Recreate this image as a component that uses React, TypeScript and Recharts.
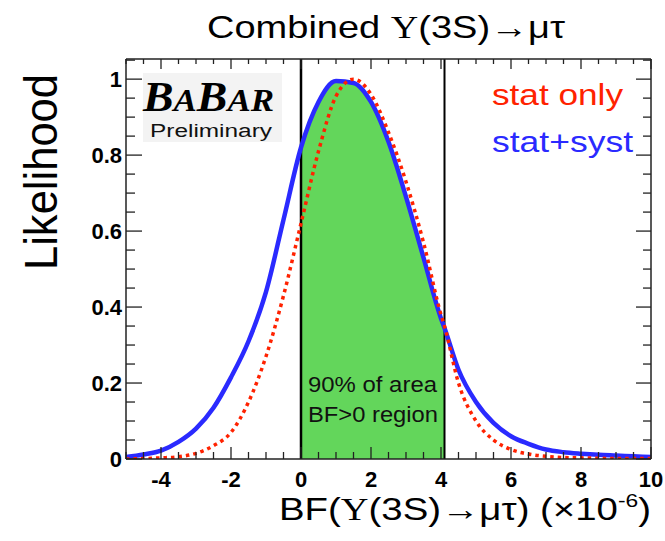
import React from "react";
import { ComposedChart, Line, Area, XAxis, YAxis, ReferenceLine } from "recharts";

const xValues = [-5, -4.5, -4, -3.5, -3, -2.5, -2, -1.5, -1, -0.5, 0, 0.5, 1, 1.5, 2, 2.5, 3, 3.5, 4, 4.1, 4.5, 5, 5.5, 6, 6.5, 7, 7.5, 8, 8.5, 9, 9.5, 10];
const statSyst = [0.005, 0.012, 0.022, 0.045, 0.08, 0.135, 0.215, 0.31, 0.44, 0.63, 0.82, 0.94, 0.995, 0.99, 0.94, 0.835, 0.69, 0.53, 0.37, 0.345, 0.235, 0.15, 0.095, 0.06, 0.04, 0.025, 0.018, 0.014, 0.011, 0.009, 0.007, 0.005];
const statOnly = [0.0, 0.001, 0.003, 0.006, 0.015, 0.035, 0.07, 0.15, 0.27, 0.43, 0.62, 0.81, 0.955, 1.0, 0.96, 0.86, 0.73, 0.57, 0.38, 0.35, 0.2, 0.1, 0.05, 0.025, 0.013, 0.007, 0.004, 0.003, 0.002, 0.001, 0.001, 0.001];
const bandLow = 0;
const bandHigh = 4.1;

const xTicks = [-5, -4.5, -4, -3.5, -3, -2.5, -2, -1.5, -1, -0.5, 0, 0.5, 1, 1.5, 2, 2.5, 3, 3.5, 4, 4.5, 5, 5.5, 6, 6.5, 7, 7.5, 8, 8.5, 9, 9.5, 10];
const xLabels = [-4, -2, 0, 2, 4, 6, 8, 10];
const yTicks = [0, 0.05, 0.1, 0.15, 0.2, 0.25, 0.3, 0.35, 0.4, 0.45, 0.5, 0.55, 0.6, 0.65, 0.7, 0.75, 0.8, 0.85, 0.9, 0.95, 1, 1.05];
const yLabels = [0, 0.2, 0.4, 0.6, 0.8, 1];

const data = xValues.map((x, i) => ({
  x,
  syst: statSyst[i],
  stat: statOnly[i],
  band: x >= bandLow && x <= bandHigh ? statSyst[i] : null,
}));

const isMajor = (v: number, list: number[]) => list.some((m) => Math.abs(m - v) < 1e-6);
const AX = "#222";
const FONT = "'Liberation Sans', Arial, Helvetica, sans-serif";

const BottomTick = (props: any) => {
  const { x, y, payload } = props;
  const major = isMajor(payload.value, xLabels);
  return (
    <g>
      <line x1={x} y1={y} x2={x} y2={y - (major ? 12 : 7)} stroke={AX} strokeWidth={1.3} />
      {major && (
        <text x={x} y={y + 28} textAnchor="middle" fontFamily={FONT} fontWeight="bold" fontSize={22} fill="#000">
          {payload.value}
        </text>
      )}
    </g>
  );
};

const TopTick = (props: any) => {
  const { x, y, payload } = props;
  const major = isMajor(payload.value, xLabels);
  return <line x1={x} y1={y} x2={x} y2={y + (major ? 10 : 5)} stroke={AX} strokeWidth={1.3} />;
};

const LeftTick = (props: any) => {
  const { x, y, payload } = props;
  const major = isMajor(payload.value, yLabels);
  return (
    <g>
      <line x1={x} y1={y} x2={x + (major ? 16 : 9)} y2={y} stroke={AX} strokeWidth={1.3} />
      {major && (
        <text x={x - 4} y={y + 8} textAnchor="end" fontFamily={FONT} fontWeight="bold" fontSize={22} fill="#000">
          {payload.value}
        </text>
      )}
    </g>
  );
};

const RightTick = (props: any) => {
  const { x, y, payload } = props;
  const major = isMajor(payload.value, yLabels);
  return <line x1={x} y1={y} x2={x - (major ? 15 : 8)} y2={y} stroke={AX} strokeWidth={1.3} />;
};

export default function App() {
  return (
    <div style={{ position: "absolute", left: 0, top: 0, width: 665, height: 541, background: "#fff" }}>
      <ComposedChart width={665} height={541} data={data} margin={{ top: 49, right: 4, bottom: 42, left: 86 }}>
        <XAxis xAxisId="b" dataKey="x" type="number" domain={[-5, 10]} ticks={xTicks} interval={0}
          height={40} tickSize={0} tickMargin={0} tick={BottomTick} axisLine={{ stroke: AX, strokeWidth: 1.5 }} allowDataOverflow />
        <XAxis xAxisId="t" orientation="top" dataKey="x" type="number" domain={[-5, 10]} ticks={xTicks} interval={0}
          height={10} tickSize={0} tickMargin={0} tick={TopTick} axisLine={{ stroke: AX, strokeWidth: 1.5 }} allowDataOverflow />
        <YAxis yAxisId="l" type="number" domain={[0, 1.053]} ticks={yTicks} interval={0}
          width={40} tickSize={0} tickMargin={0} tick={LeftTick} axisLine={{ stroke: AX, strokeWidth: 1.5 }} allowDataOverflow />
        <YAxis yAxisId="r" orientation="right" type="number" domain={[0, 1.053]} ticks={yTicks} interval={0}
          width={10} tickSize={0} tickMargin={0} tick={RightTick} axisLine={{ stroke: AX, strokeWidth: 1.5 }} allowDataOverflow />
        <Area xAxisId="b" yAxisId="l" dataKey="band" type="monotone" fill="#63d65b" fillOpacity={1} stroke="none"
          baseValue={0} isAnimationActive={false} connectNulls={false} />
        <ReferenceLine xAxisId="b" yAxisId="l" x={bandLow} stroke="#000" strokeWidth={2.5} />
        <ReferenceLine xAxisId="b" yAxisId="l" x={bandHigh} stroke="#000" strokeWidth={2} />
        <Line xAxisId="b" yAxisId="l" dataKey="syst" type="monotone" stroke="#2a2aff" strokeWidth={4.5} dot={false} isAnimationActive={false} />
        <Line xAxisId="b" yAxisId="l" dataKey="stat" type="monotone" stroke="#ff2200" strokeWidth={3.5} strokeDasharray="3.5 4" dot={false} isAnimationActive={false} />
      </ComposedChart>
      <svg width={665} height={541} style={{ position: "absolute", left: 0, top: 0, pointerEvents: "none" }}>
        <text x={207} y={38} fontFamily={FONT} fontSize={32} fill="#000" textLength={358} lengthAdjust="spacingAndGlyphs">
          Combined <tspan fontFamily="'Liberation Serif', serif">Υ</tspan>(3S)→μτ
        </text>
        <text transform="translate(57,270) rotate(-90)" x={0} y={0} fontFamily={FONT} fontSize={46} fill="#000" textLength={196} lengthAdjust="spacingAndGlyphs">
          Likelihood
        </text>
        <text x={279} y={520} fontFamily={FONT} fontSize={32} fill="#000" textLength={372} lengthAdjust="spacingAndGlyphs">
          BF(<tspan fontFamily="'Liberation Serif', serif">Υ</tspan>(3S)→μτ) (×10<tspan fontSize={19} dy={-13}>-6</tspan><tspan dy={13}>)</tspan>
        </text>
        <rect x={143} y={73} width={139} height={69} fill="#f3f3f3" />
        <text x={143} y={111} fontFamily="'Liberation Serif', 'Times New Roman', serif" fontWeight="bold" fontStyle="italic" fill="#000" textLength={131} lengthAdjust="spacingAndGlyphs">
          <tspan fontSize={42}>B</tspan><tspan fontSize={32}>A</tspan><tspan fontSize={42}>B</tspan><tspan fontSize={32}>AR</tspan>
        </text>
        <text x={150} y={137} fontFamily={FONT} fontSize={18} fill="#111" textLength={122} lengthAdjust="spacingAndGlyphs">
          Preliminary
        </text>
        <text x={492} y={105} fontFamily={FONT} fontSize={30} fill="#ff2200" textLength={131} lengthAdjust="spacingAndGlyphs">
          stat only
        </text>
        <text x={492} y={152} fontFamily={FONT} fontSize={30} fill="#2a2aff" textLength={141} lengthAdjust="spacingAndGlyphs">
          stat+syst
        </text>
        <text x={308} y={392} fontFamily={FONT} fontSize={22} fill="#111" textLength={129} lengthAdjust="spacingAndGlyphs">
          90% of area
        </text>
        <text x={308} y={422} fontFamily={FONT} fontSize={22} fill="#111" textLength={130} lengthAdjust="spacingAndGlyphs">
          BF&gt;0 region
        </text>
      </svg>
    </div>
  );
}
